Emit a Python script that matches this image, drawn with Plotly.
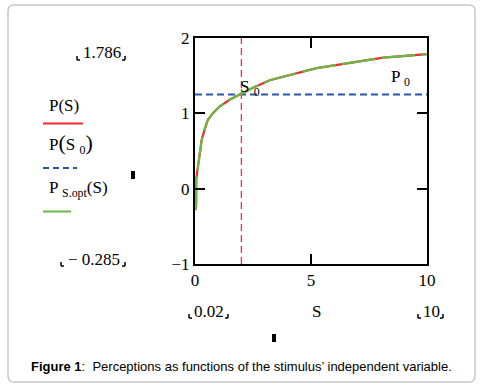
import plotly.graph_objects as go

# ---- data ----
S_vals = [0.02, 0.05, 0.05, 0.12, 0.19, 0.29, 0.41, 0.55, 0.77, 1.06, 1.49, 1.92,
          2.5, 3.22, 4.23, 5.24, 6.68, 8.12, 10.0]
P_vals = [-0.285, -0.20, 0.12, 0.27, 0.45, 0.65, 0.78, 0.91, 1.0, 1.09, 1.18, 1.25,
          1.34, 1.44, 1.52, 1.60, 1.67, 1.74, 1.786]
S0 = 2.0
P0 = 1.25
x_range = [0, 10]
y_range = [-1, 2]
x_ticks = [0, 5, 10]
y_ticks = [-1, 0, 1, 2]
y_ticktext = ["\u22121", "0", "1", "2"]
caption = "<b>Figure 1</b>:\u00a0\u00a0Perceptions as functions of the stimulus\u2019 independent variable."

RED = "#ee2a2a"
GREEN = "#6ab744"
BLUE = "#2a55a8"
SERIF = "Liberation Serif"

W, H = 485, 388
L, R, T, B = 195, 427, 38, 264


def px(x):
    return (x - L) / (R - L)


def py(y):
    return (B - y) / (B - T)


fig = go.Figure()

# horizontal P0 line (red dotted beneath, blue dashed above)
fig.add_trace(go.Scatter(x=x_range, y=[P0, P0], mode="lines",
                         line=dict(color=RED, width=1, dash="2px,9px"),
                         hoverinfo="skip", showlegend=False))
fig.add_trace(go.Scatter(x=x_range, y=[P0, P0], mode="lines",
                         line=dict(color=BLUE, width=2, dash="7px,4px"),
                         showlegend=False))
# vertical S0 line
fig.add_trace(go.Scatter(x=[S0, S0], y=y_range, mode="lines",
                         line=dict(color="#f03030", width=1.3, dash="7px,4px"),
                         showlegend=False))
# P(S) red
fig.add_trace(go.Scatter(x=S_vals, y=P_vals, mode="lines",
                         line=dict(color=RED, width=2.2), showlegend=False))
# P_S.opt(S) green on top with small gaps
fig.add_trace(go.Scatter(x=S_vals, y=P_vals, mode="lines",
                         line=dict(color=GREEN, width=2.2, dash="34px,6px"),
                         showlegend=False))

shapes = []
# outer rounded border
x0, x1, y0, y1, r = px(8), px(475), py(5), py(382), 6
rx = r / (R - L)
ry = r / (B - T)
path = (f"M {x0+rx},{y0} L {x1-rx},{y0} Q {x1},{y0} {x1},{y0-ry} "
        f"L {x1},{y1+ry} Q {x1},{y1} {x1-rx},{y1} L {x0+rx},{y1} "
        f"Q {x0},{y1} {x0},{y1+ry} L {x0},{y0-ry} Q {x0},{y0} {x0+rx},{y0} Z")
shapes.append(dict(type="path", xref="paper", yref="paper", path=path,
                   line=dict(color="#c8c8c8", width=1.5), layer="below"))


def bracket(xl, xr, yb):
    for (xa, ya, xb, yb2) in [(xl, yb - 4, xl, yb), (xl, yb, xl + 3, yb),
                              (xr, yb - 4, xr, yb), (xr, yb, xr - 3, yb)]:
        shapes.append(dict(type="line", xref="paper", yref="paper",
                           x0=px(xa), y0=py(ya), x1=px(xb), y1=py(yb2),
                           line=dict(color="black", width=1.5)))


bracket(77, 125, 60)
bracket(61, 125, 266)
bracket(189, 228, 318)
bracket(418, 443, 318)

# legend sample lines
shapes.append(dict(type="line", xref="paper", yref="paper", x0=px(43), x1=px(83),
                   y0=py(123.5), y1=py(123.5), line=dict(color=RED, width=2)))
shapes.append(dict(type="line", xref="paper", yref="paper", x0=px(43), x1=px(77),
                   y0=py(168), y1=py(168), line=dict(color=BLUE, width=2, dash="6px,4px")))
shapes.append(dict(type="line", xref="paper", yref="paper", x0=px(43), x1=px(71),
                   y0=py(211.5), y1=py(211.5), line=dict(color=GREEN, width=2)))

# small black markers
shapes.append(dict(type="rect", xref="paper", yref="paper", x0=px(131), x1=px(135),
                   y0=py(171), y1=py(179), fillcolor="black", line=dict(width=0)))
shapes.append(dict(type="rect", xref="paper", yref="paper", x0=px(272), x1=px(276),
                   y0=py(334), y1=py(342), fillcolor="black", line=dict(width=0)))

ann = []


def text(x, y, s, size=17, font=SERIF, xanchor="center", color="black"):
    ann.append(dict(xref="paper", yref="paper", x=px(x), y=py(y), text=s,
                    showarrow=False, xanchor=xanchor, yanchor="middle",
                    font=dict(family=font, size=size, color=color)))


text(101.5, 52, "1.786")
text(94, 259, "\u2212 0.285")
text(208.5, 311, "0.02")
text(431, 311, "10")
text(316, 311, "S")
text(47, 105, "P(S)", xanchor="left")
text(47, 143, "P<span style='font-size:22px'>(</span>S <sub>0</sub><span style='font-size:22px'>)</span>", xanchor="left")
text(47, 189, "P <sub>S.opt</sub>(S)", xanchor="left")
text(238, 88, "S <sub>0</sub>", xanchor="left")
text(389, 78, "P <sub>0</sub>", xanchor="left")
text(241, 366, caption, size=13, font="Liberation Sans")

fig.update_layout(
    width=W, height=H,
    margin=dict(l=L, r=W - R, t=T, b=H - B),
    paper_bgcolor="white", plot_bgcolor="white",
    shapes=shapes, annotations=ann,
    showlegend=False,
    xaxis=dict(range=x_range, tickvals=x_ticks, ticks="inside", ticklen=10,
               tickwidth=2, tickcolor="black", showline=True, linewidth=2,
               linecolor="black", mirror="ticks", showgrid=False, zeroline=False,
               tickfont=dict(family=SERIF, size=17, color="black")),
    yaxis=dict(range=y_range, tickvals=y_ticks, ticktext=y_ticktext,
               ticks="inside", ticklen=10, tickwidth=2, tickcolor="black",
               showline=True, linewidth=2, linecolor="black", mirror="ticks",
               showgrid=False, zeroline=False,
               tickfont=dict(family=SERIF, size=17, color="black")),
)

fig.write_html("out.html", config={"displayModeBar": False},
               post_script="document.body.style.margin='0';document.body.style.padding='0';")
